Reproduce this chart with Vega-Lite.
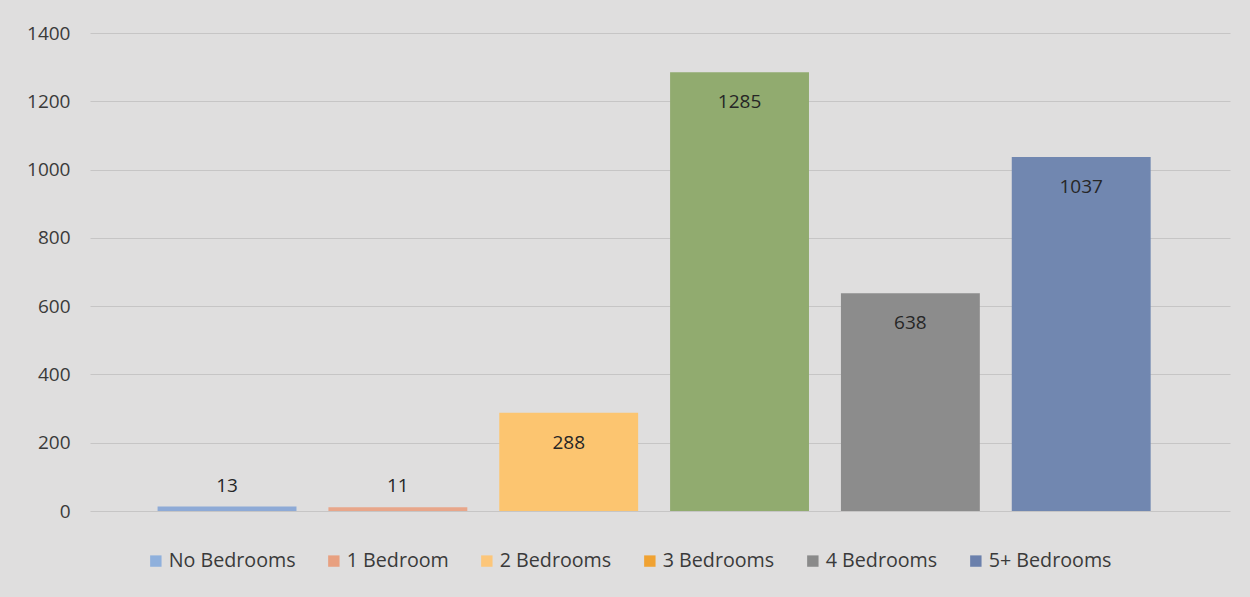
{
  "$schema": "https://vega.github.io/schema/vega-lite/v6.json",
  "autosize": "none",
  "padding": {"left": 90, "top": 33, "right": 20, "bottom": 86},
  "width": 1140,
  "height": 478,
  "background": "#dfdede",
  "config": {
    "view": {"stroke": null},
    "font": "Open Sans"
  },
  "data": {
    "values": [
      {"cat": "No Bedrooms", "count": 13},
      {"cat": "1 Bedroom", "count": 11},
      {"cat": "2 Bedrooms", "count": 288},
      {"cat": "3 Bedrooms", "count": 1285},
      {"cat": "4 Bedrooms", "count": 638},
      {"cat": "5+ Bedrooms", "count": 1037}
    ]
  },
  "encoding": {
    "x": {
      "field": "cat",
      "type": "nominal",
      "sort": ["No Bedrooms", "1 Bedroom", "2 Bedrooms", "3 Bedrooms", "4 Bedrooms", "5+ Bedrooms"],
      "scale": {"paddingInner": 0.187, "paddingOuter": 0.43, "align": 0.46},
      "axis": null
    },
    "y": {
      "field": "count",
      "type": "quantitative",
      "scale": {"domain": [0, 1400], "nice": false},
      "axis": {
        "title": null,
        "format": "d",
        "values": [0, 200, 400, 600, 800, 1000, 1200, 1400],
        "domain": false,
        "ticks": false,
        "labelPadding": 20,
        "labelFontSize": 19,
        "labelColor": "#3a3a3a",
        "labelFont": "Open Sans",
        "gridColor": "#c6c5c5",
        "gridWidth": 1
      }
    }
  },
  "layer": [
    {
      "mark": {"type": "bar", "opacity": 0},
      "encoding": {
        "color": {
          "field": "cat",
          "type": "nominal",
          "scale": {
            "domain": ["No Bedrooms", "1 Bedroom", "2 Bedrooms", "3 Bedrooms", "4 Bedrooms", "5+ Bedrooms"],
            "range": ["#8fb0dc", "#e8a080", "#fcc67a", "#f0a232", "#8a8a8a", "#6b80ac"]
          },
          "legend": {
            "title": null,
            "orient": "none",
            "legendX": 56,
            "legendY": 518,
            "direction": "horizontal",
            "symbolType": "square",
            "symbolSize": 130,
            "symbolOpacity": 1,
            "symbolStrokeWidth": 0,
            "labelFontSize": 19.7,
            "labelFont": "Open Sans",
            "labelColor": "#3a3a3a",
            "labelOffset": 3,
            "columnPadding": 28
          }
        }
      }
    },
    {
      "mark": {"type": "bar"},
      "encoding": {
        "color": {
          "field": "cat",
          "type": "nominal",
          "scale": {
            "domain": ["No Bedrooms", "1 Bedroom", "2 Bedrooms", "3 Bedrooms", "4 Bedrooms", "5+ Bedrooms"],
            "range": ["#8eaad6", "#e8a68a", "#fcc570", "#91ab6f", "#8c8c8c", "#7187b0"]
          },
          "legend": null
        }
      }
    },
    {
      "transform": [{"filter": "datum.count >= 100"}],
      "mark": {"type": "text", "baseline": "middle", "dy": 30, "fontSize": 19, "font": "Open Sans", "color": "#262626"},
      "encoding": {"text": {"field": "count", "type": "quantitative"}}
    },
    {
      "transform": [{"filter": "datum.count < 100"}],
      "mark": {"type": "text", "baseline": "middle", "dy": -21, "fontSize": 19, "font": "Open Sans", "color": "#262626"},
      "encoding": {"text": {"field": "count", "type": "quantitative"}}
    }
  ],
  "resolve": {"scale": {"color": "independent"}}
}
